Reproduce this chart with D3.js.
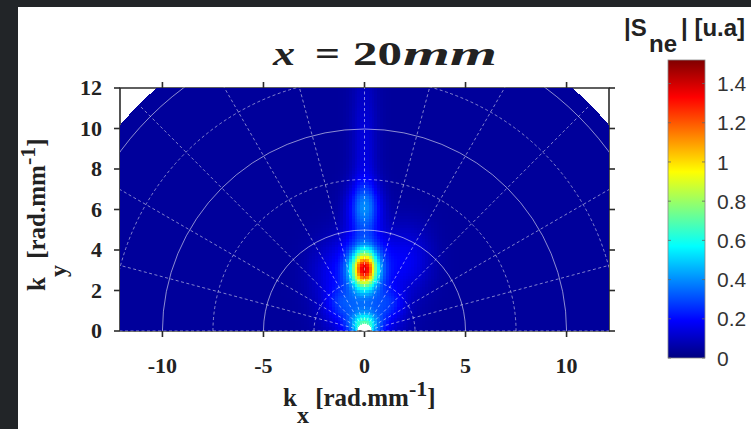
<!DOCTYPE html>
<html>
<head>
<meta charset="utf-8">
<script src="https://cdn.jsdelivr.net/npm/d3@7"></script>
<style>
  html, body { margin: 0; padding: 0; background: #fff; }
  svg { display: block; }
</style>
</head>
<body>
<svg id="chart" width="751" height="429"></svg>
<script>
// ---- data ----
const xTicks = [-10, -5, 0, 5, 10];
const yTicks = [0, 2, 4, 6, 8, 10, 12];
const cbTicks = [0, 0.2, 0.4, 0.6, 0.8, 1, 1.2, 1.4];
const cbTickLabels = ["0", "0.2", "0.4", "0.6", "0.8", "1", "1.2", "1.4"];
const kxDomain = [-12.1, 12.1];
const kyDomain = [0, 12];
const colorDomain = [0, 1.52];
const outerRadius = 15.8;   // measured spectrum extent
const innerRadius = 0.35;   // excluded DC region
const solidRings = [5, 10, 15];
const dashedRings = [2.5, 7.5, 12.5];
const spokeAngles = [0, 15, 30, 45, 60, 75, 90, 105, 120, 135, 150, 165, 180];

// spectral lobes of |S_ne| (position in rad/mm, amplitude in u.a, spread in rad/mm)
const lobeKx  = [0,    0,    0,    0,    0,    0,    2.2,  -1.8, 1.3,  -1.2];
const lobeKy  = [3.05, 3.1,  0.25, 0.6,  6.1,  8.8,  3.5,  2.8,  1.4,  1.4];
const lobeAmp = [1.00, 0.32, 0.45, 0.22, 0.28, 0.10, 0.12, 0.08, 0.10, 0.10];
const lobeSx  = [0.42, 0.9,  0.45, 1.1,  0.55, 0.45, 0.8,  0.8,  0.5,  0.5];
const lobeSy  = [0.6,  1.2,  0.4,  0.9,  0.85, 3.0,  1.2,  1.2,  0.5,  0.5];
const floorLevel = 0.04;

// ---- layout ----
const svg = d3.select("#chart");
const plot = { left: 120, right: 609, top: 88, bottom: 331 };
const x = d3.scaleLinear().domain(kxDomain).range([plot.left, plot.right]);
const y = d3.scaleLinear().domain(kyDomain).range([plot.bottom, plot.top]);

// jet colormap
const jetStops = [0, 0.125, 0.375, 0.625, 0.875, 1];
const jetColors = ["#000080", "#0000ff", "#00ffff", "#ffff00", "#ff0000", "#800000"];
const color = d3.scaleLinear()
  .domain(jetStops.map(f => colorDomain[0] + f * (colorDomain[1] - colorDomain[0])))
  .range(jetColors)
  .interpolate(d3.interpolateRgb)
  .clamp(true);

svg.append("rect").attr("width", 751).attr("height", 429).attr("fill", "#fff");
// dark page edge
svg.append("rect").attr("x", 0).attr("y", 0).attr("width", 751).attr("height", 7).attr("fill", "#222528");
svg.append("rect").attr("x", 0).attr("y", 0).attr("width", 18).attr("height", 429).attr("fill", "#222528");

// ---- axes frame (behind the map) ----
const axisColor = "#2b2b2b";
const frame = svg.append("g").attr("stroke", axisColor).attr("stroke-width", 1.6).attr("fill", "none");
frame.append("path").attr("d",
  `M${plot.left},${plot.bottom}V${plot.top}H${plot.right}V${plot.bottom}H${plot.left}`);

const tickLen = 6;
frame.selectAll(".xb").data(xTicks).join("line")
  .attr("x1", d => x(d)).attr("x2", d => x(d)).attr("y1", plot.bottom).attr("y2", plot.bottom + tickLen);
frame.selectAll(".xt").data(xTicks).join("line")
  .attr("x1", d => x(d)).attr("x2", d => x(d)).attr("y1", plot.top).attr("y2", plot.top - tickLen);
frame.selectAll(".yl").data(yTicks).join("line")
  .attr("y1", d => y(d)).attr("y2", d => y(d)).attr("x1", plot.left).attr("x2", plot.left - tickLen);
frame.selectAll(".yr").data(yTicks).join("line")
  .attr("y1", d => y(d)).attr("y2", d => y(d)).attr("x1", plot.right).attr("x2", plot.right + tickLen);

// ---- spectrum map ----
function field(kx, ky) {
  let v = floorLevel;
  for (let i = 0; i < lobeKx.length; i++) {
    const dx = (kx - lobeKx[i]) / lobeSx[i];
    const dy = (ky - lobeKy[i]) / lobeSy[i];
    v += lobeAmp[i] * Math.exp(-0.5 * (dx * dx + dy * dy));
  }
  return v;
}
const W = plot.right - plot.left, H = plot.bottom - plot.top;
const canvas = document.createElement("canvas");
canvas.width = W; canvas.height = H;
const ctx = canvas.getContext("2d");
const img = ctx.createImageData(W, H);
const cell = 0.14; // sampling step of the measurement grid (rad/mm)
for (let py = 0; py < H; py++) {
  for (let px = 0; px < W; px++) {
    const kx = x.invert(plot.left + px + 0.5);
    const ky = y.invert(plot.top + py + 0.5);
    const r = Math.hypot(kx, ky);
    const k = 4 * (py * W + px);
    if (r > outerRadius || r < innerRadius || ky < 0) { img.data[k + 3] = 0; continue; }
    const qx = Math.round(kx / cell) * cell, qy = Math.round(ky / cell) * cell;
    const c = d3.rgb(color(field(qx, qy)));
    img.data[k] = c.r; img.data[k + 1] = c.g; img.data[k + 2] = c.b; img.data[k + 3] = 255;
  }
}
ctx.putImageData(img, 0, 0);
svg.append("image")
  .attr("x", plot.left).attr("y", plot.top).attr("width", W).attr("height", H)
  .attr("preserveAspectRatio", "none")
  .attr("href", canvas.toDataURL());

// ---- polar grid ----
const defs = svg.append("defs");
defs.append("clipPath").attr("id", "plotClip").append("rect")
  .attr("x", plot.left).attr("y", plot.top - 0.5).attr("width", W).attr("height", H + 1);
defs.append("clipPath").attr("id", "diskClip").append("circle")
  .attr("cx", x(0)).attr("cy", y(0)).attr("r", x(outerRadius) - x(0));
const grid = svg.append("g").attr("clip-path", "url(#plotClip)")
  .append("g").attr("clip-path", "url(#diskClip)").attr("fill", "none");
const pxPerUnit = x(1) - x(0);
const arc = r => `M${x(-r)},${y(0)}A${r * pxPerUnit},${r * pxPerUnit} 0 0 1 ${x(r)},${y(0)}`;
grid.selectAll(".ring").data(solidRings).join("path")
  .attr("d", arc).attr("stroke", "rgba(255,255,255,0.55)").attr("stroke-width", 1);
grid.selectAll(".dring").data(dashedRings).join("path")
  .attr("d", arc).attr("stroke", "rgba(255,255,255,0.5)").attr("stroke-width", 1)
  .attr("stroke-dasharray", "3,2.5");
grid.selectAll(".spoke").data(spokeAngles).join("line")
  .attr("x1", x(0)).attr("y1", y(0))
  .attr("x2", a => x(20 * Math.cos(a * Math.PI / 180)))
  .attr("y2", a => y(20 * Math.sin(a * Math.PI / 180)))
  .attr("stroke", "rgba(255,255,255,0.5)").attr("stroke-width", 1)
  .attr("stroke-dasharray", "3,2.5");

// ---- tick labels ----
const serif = "'Liberation Serif', 'Times New Roman', serif";
svg.append("g").selectAll("text").data(xTicks).join("text")
  .attr("x", d => x(d)).attr("y", 373)
  .attr("text-anchor", "middle")
  .attr("font-family", serif).attr("font-weight", "bold").attr("font-size", 22).attr("fill", "#222")
  .text(d => d);
svg.append("g").selectAll("text").data(yTicks).join("text")
  .attr("x", 102).attr("y", d => y(d)).attr("dy", "0.34em")
  .attr("text-anchor", "end")
  .attr("font-family", serif).attr("font-weight", "bold").attr("font-size", 22).attr("fill", "#222")
  .text(d => d);

// ---- axis titles ----
function axisTitle(sel, subShift) {
  sel.attr("font-family", serif).attr("font-weight", "bold").attr("font-size", 25).attr("fill", "#222");
  sel.append("tspan").text("k");
  sel.append("tspan").attr("class", "sub").attr("dy", subShift).attr("font-size", 24);
  sel.append("tspan").attr("dy", -subShift).text(" [rad.mm");
  sel.append("tspan").attr("dy", -10).attr("font-size", 22).text("-1");
  sel.append("tspan").attr("dy", 10).text("]");
  return sel;
}
const xl = axisTitle(svg.append("text").attr("x", 283).attr("y", 406), 17);
xl.select(".sub").text("x");
const yl = axisTitle(svg.append("text").attr("transform", "translate(45,291) rotate(-90)"), 21);
yl.select(".sub").text("y");

// ---- title ----
const titleFont = "'Liberation Serif', 'DejaVu Serif', serif";
const titleParts = [
  { t: "x",  x0: 273, x1: 295, italic: true },
  { t: "=",  x0: 315, x1: 340, italic: false },
  { t: "20", x0: 353, x1: 402, italic: false },
  { t: "mm", x0: 403, x1: 497, italic: true }
];
svg.append("g").selectAll("text").data(titleParts).join("text")
  .attr("x", d => d.x0).attr("y", 65)
  .attr("textLength", d => d.x1 - d.x0).attr("lengthAdjust", "spacingAndGlyphs")
  .attr("font-family", titleFont).attr("font-weight", "bold").attr("font-size", 34)
  .attr("font-style", d => d.italic ? "italic" : "normal").attr("fill", "#222")
  .text(d => d.t);

// ---- colorbar ----
const cb = { left: 668, right: 705, top: 60, bottom: 358 };
const cy = d3.scaleLinear().domain(colorDomain).range([cb.bottom, cb.top]);
const grad = defs.append("linearGradient").attr("id", "jet")
  .attr("x1", 0).attr("y1", 1).attr("x2", 0).attr("y2", 0);
grad.selectAll("stop").data(jetStops).join("stop")
  .attr("offset", d => d).attr("stop-color", (d, i) => jetColors[i]);
svg.append("rect")
  .attr("x", cb.left).attr("y", cb.top).attr("width", cb.right - cb.left).attr("height", cb.bottom - cb.top)
  .attr("fill", "url(#jet)").attr("stroke", "#888").attr("stroke-width", 0.8);
const cbt = svg.append("g").attr("stroke", "#666").attr("stroke-width", 0.8);
cbt.selectAll(".l").data(cbTicks).join("line")
  .attr("x1", cb.left).attr("x2", cb.left + 3).attr("y1", d => cy(d)).attr("y2", d => cy(d));
cbt.selectAll(".r").data(cbTicks).join("line")
  .attr("x1", cb.right - 3).attr("x2", cb.right).attr("y1", d => cy(d)).attr("y2", d => cy(d));
const sans = "'Liberation Sans', Arial, sans-serif";
svg.append("g").selectAll("text").data(cbTicks).join("text")
  .attr("x", 717).attr("y", d => cy(d)).attr("dy", "0.36em")
  .attr("font-family", sans).attr("font-size", 21).attr("fill", "#333")
  .text((d, i) => cbTickLabels[i]);

const cbTitle = svg.append("text").attr("font-family", sans).attr("font-weight", "bold")
  .attr("font-size", 24).attr("fill", "#222");
cbTitle.append("tspan").attr("x", 624).attr("y", 36).text("|S");
cbTitle.append("tspan").attr("x", 649).attr("y", 52).text("ne");
cbTitle.append("tspan").attr("x", 681).attr("y", 36).text("| [u.a]");
</script>
</body>
</html>
